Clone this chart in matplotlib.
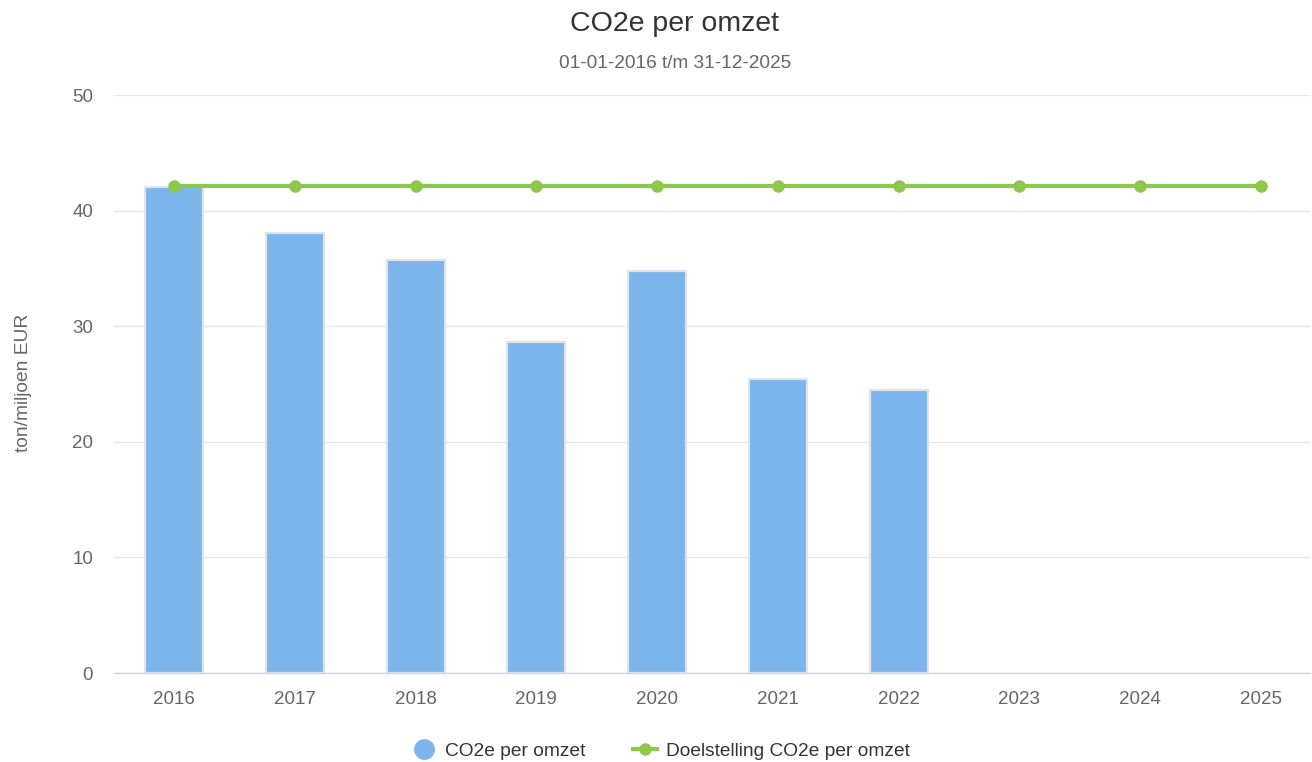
import matplotlib
matplotlib.use("Agg")
import matplotlib.pyplot as plt
from matplotlib.lines import Line2D

years = ["2016", "2017", "2018", "2019", "2020", "2021", "2022", "2023", "2024", "2025"]
co2e_per_omzet = [42.0, 38.1, 35.7, 28.6, 34.8, 25.4, 24.5]
doelstelling = [42.1] * 10
yticks = [0, 10, 20, 30, 40, 50]

W, H = 1312, 762
fig = plt.figure(figsize=(W / 100, H / 100), dpi=100)
plt.rcParams['font.family'] = ['Liberation Sans', 'DejaVu Sans']

left, right, top, bottom = 114, 1310, 95, 673
ax = fig.add_axes([left / W, (H - bottom) / H, (right - left) / W, (bottom - top) / H])

x_all = list(range(len(years)))
x_bars = x_all[:len(co2e_per_omzet)]

ax.bar(x_bars, co2e_per_omzet, width=0.48, color="#7cb5ec", edgecolor="#dfe4ea",
       linewidth=1.6, zorder=2)
ax.plot(x_all, doelstelling, color="#8cc84b", linewidth=3, marker="o", markersize=9,
        markeredgewidth=0, zorder=3)

ax.set_xlim(-0.497, 9.406)
ax.set_ylim(0, 50)
ax.set_yticks(yticks)
ax.set_xticks(x_all)
ax.set_xticklabels(years)
ax.yaxis.grid(True, color="#e6e6e6", linewidth=1)
ax.set_axisbelow(True)
for s in ["top", "right", "left"]:
    ax.spines[s].set_visible(False)
ax.spines["bottom"].set_color("#ccd6eb")
ax.spines["bottom"].set_linewidth(1)
ax.tick_params(axis="y", length=0, pad=15, labelsize=13.5, labelcolor="#666666")
ax.tick_params(axis="x", length=0, pad=13, labelsize=13.5, labelcolor="#666666")

fig.text(23 / W, 1 - 383 / H, "ton/miljoen EUR", rotation=90, ha="center", va="center",
         fontsize=13.8, color="#666666")

fig.text(675 / W, 1 - 24 / H, "CO2e per omzet", ha="center", va="center",
         fontsize=20.5, color="#333333")
fig.text(675 / W, 1 - 64 / H, "01-01-2016 t/m 31-12-2025", ha="center", va="center",
         fontsize=13.7, color="#666666")

handles = [
    Line2D([], [], linestyle="none", marker="o", markersize=14, color="#7cb5ec"),
    Line2D([], [], color="#8cc84b", linewidth=3, marker="o", markersize=9, markeredgewidth=0),
]
fig.legend(handles, ["CO2e per omzet", "Doelstelling CO2e per omzet"],
           loc="center", bbox_to_anchor=(661 / W, 1 - 751 / H), ncol=2, frameon=False,
           fontsize=13.8, labelcolor="#333333", handlelength=1.25, columnspacing=2.5,
           handletextpad=0.45)

fig.savefig("out.png", dpi=100)
